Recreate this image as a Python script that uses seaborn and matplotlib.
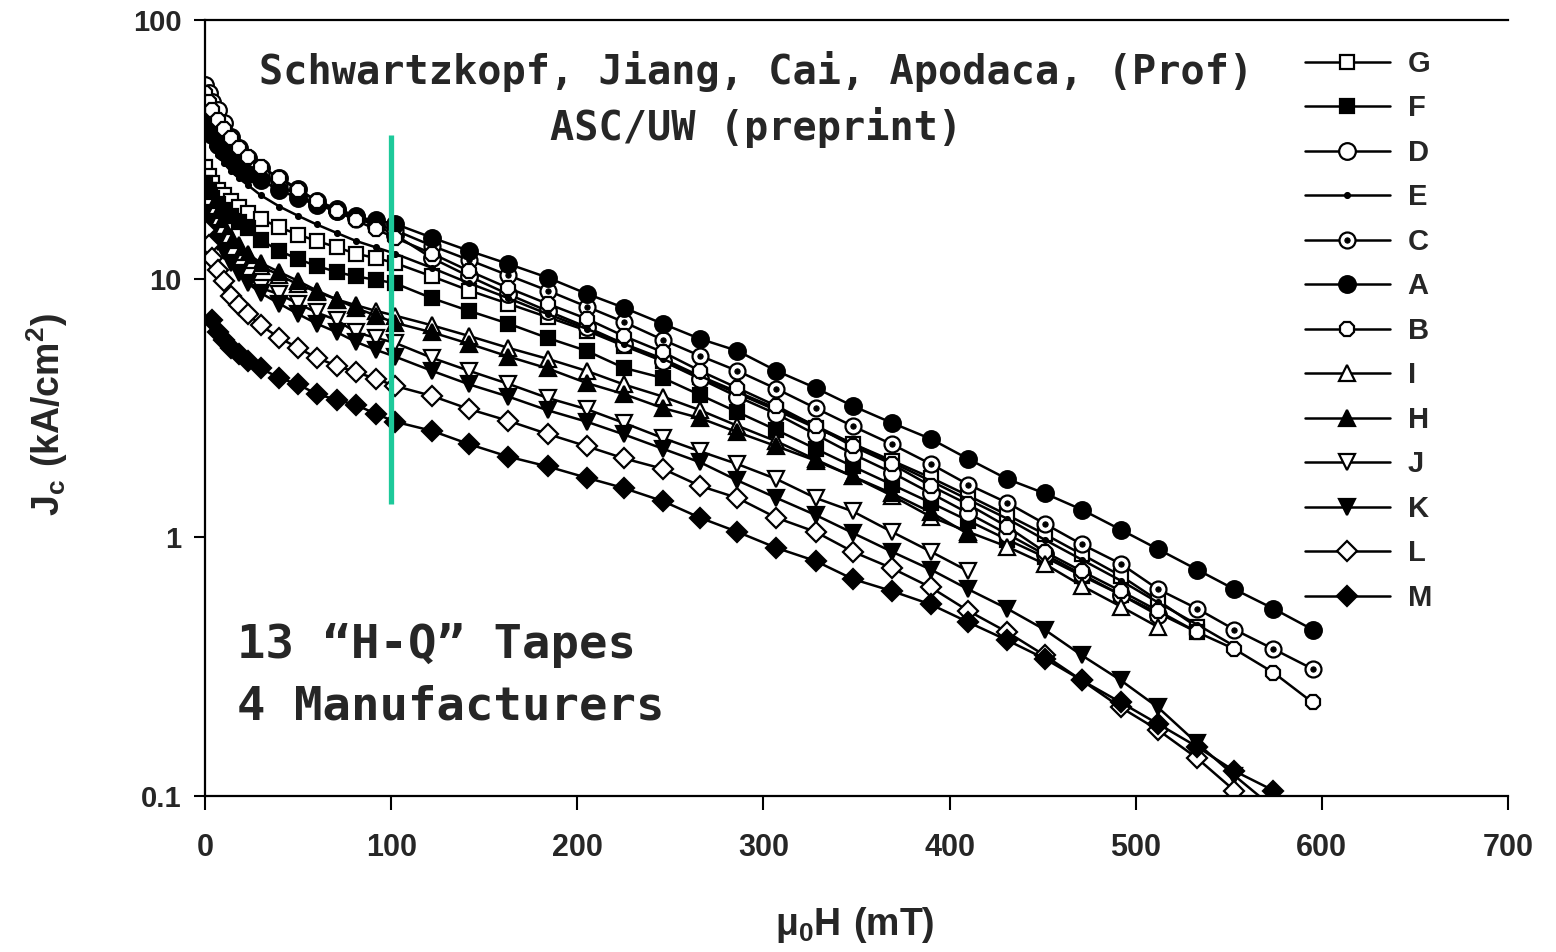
import numpy as np
import matplotlib
matplotlib.use("Agg")
import matplotlib.pyplot as plt
import seaborn as sns
from matplotlib.legend_handler import HandlerTuple

# ---------------- data ----------------
field = [0, 2, 4, 7, 10, 14, 18, 23, 30, 40, 50, 60, 71, 81, 92, 102,
         122, 142, 163, 184, 205, 225, 246, 266, 286, 307, 328, 348, 369,
         390, 410, 431, 451, 471, 492, 512, 533, 553, 574, 595]

G = [27, 25, 23.5, 22, 21, 20, 19, 18, 17, 15.8, 14.8, 14.0, 13.2, 12.5, 12.0, 11.5,
     10.2, 9.0, 8.0, 7.1, 6.3, 5.5, 4.8, 4.15, 3.6, 3.1,
     2.65, 2.3, 1.98, 1.7, 1.45, 1.22, 1.03, 0.86, 0.71, 0.57, 0.45]
F = [23.5, 22, 20.5, 19.5, 18.5, 17.5, 16.6, 15.7, 14.1, 12.8, 11.9, 11.2, 10.6, 10.2, 9.9, 9.6,
     8.4, 7.5, 6.7, 5.9, 5.26, 4.52, 4.13, 3.55, 3.05, 2.6,
     2.2, 1.88, 1.6, 1.36, 1.16, 0.98, 0.84, 0.71, 0.6, 0.51, 0.43]
D = [56, 52, 48, 44.8, 40, 35.2, 32, 29.4, 26.9, 24.6, 22.2, 20.0, 18.6, 17.5, 16.0, 14.8,
     12.0, 10.2, 8.7, 7.5, 6.5, 5.6, 4.8, 4.1, 3.5, 3.0,
     2.5, 2.1, 1.78, 1.48, 1.24, 1.03, 0.86, 0.72, 0.6, 0.5]
E = [38, 35, 32.5, 30, 28, 26, 24.5, 23, 21, 19, 17.5, 16.2, 15.0, 14.0, 13.2, 12.5,
     11.0, 9.6, 8.4, 7.3, 6.4, 5.6, 4.9, 4.2, 3.65, 3.15,
     2.7, 2.3, 1.95, 1.65, 1.4, 1.18, 0.98, 0.82, 0.68, 0.56, 0.46, 0.38]
C = [47, 44, 41, 38, 35, 32, 30, 28, 25.5, 23, 21, 19.5, 18.2, 17.0, 16.2, 15.4,
     13.4, 11.8, 10.3, 9.0, 7.8, 6.8, 5.8, 5.03, 4.40, 3.75,
     3.16, 2.69, 2.29, 1.92, 1.60, 1.36, 1.13, 0.94, 0.79, 0.63, 0.53, 0.44, 0.37, 0.31]
A = [41, 38, 36, 33, 31, 29, 27, 25.5, 24, 22, 20.5, 19.3, 18.2, 17.3, 16.8, 16.3,
     14.4, 12.8, 11.4, 10.1, 8.75, 7.72, 6.69, 5.85, 5.26, 4.40,
     3.78, 3.22, 2.77, 2.40, 2.01, 1.68, 1.48, 1.28, 1.07, 0.90, 0.75, 0.63, 0.53, 0.44]
B = [52, 48, 45, 41, 38, 35, 32, 29.5, 27, 24.5, 22, 20, 18.2, 16.8, 15.5, 14.4,
     12.5, 10.7, 9.2, 8.0, 7.0, 6.0, 5.2, 4.40, 3.78, 3.22,
     2.69, 2.25, 1.92, 1.58, 1.34, 1.10, 0.88, 0.74, 0.62, 0.52, 0.43, 0.37, 0.30, 0.23]
I = [21, 19.5, 18, 16.5, 15.5, 14.2, 13.2, 12.3, 11.2, 10.3, 9.5, 8.9, 8.3, 7.9, 7.5, 7.2,
     6.6, 6.0, 5.4, 4.9, 4.4, 3.9, 3.5, 3.1, 2.7, 2.35,
     2.0, 1.72, 1.45, 1.2, 1.05, 0.92, 0.79, 0.65, 0.54, 0.45]
H = [22, 20.5, 19, 17.5, 16, 14.5, 13.5, 12.5, 11.5, 10.6, 9.8, 9.0, 8.3, 7.7, 7.2, 6.75,
     6.2, 5.6, 5.0, 4.5, 3.95, 3.58, 3.16, 2.89, 2.55, 2.25,
     1.98, 1.72, 1.48, 1.25, 1.03]
J = [19, 17.5, 16, 14.8, 13.8, 12.2, 11.0, 10.2, 9.2, 8.7, 8.0, 7.4, 6.9, 6.2, 5.9, 5.65,
     4.94, 4.40, 3.92, 3.46, 3.13, 2.77, 2.42, 2.15, 1.92, 1.68,
     1.42, 1.26, 1.05, 0.88, 0.74]
K = [18, 16.5, 15, 13.8, 12.8, 11.5, 10.5, 9.6, 8.8, 8.0, 7.3, 6.7, 6.2, 5.7, 5.3, 5.0,
     4.4, 3.9, 3.5, 3.1, 2.8, 2.5, 2.2, 1.95, 1.66, 1.42,
     1.22, 1.04, 0.88, 0.75, 0.63, 0.53, 0.44, 0.35, 0.28, 0.22, 0.16, 0.12, 0.09]
L = [15.4, 13.5, 12.0, 10.8, 9.8, 8.6, 7.9, 7.3, 6.6, 5.9, 5.4, 4.94, 4.6, 4.35, 4.1, 3.85,
     3.52, 3.13, 2.82, 2.51, 2.25, 2.02, 1.84, 1.58, 1.42, 1.19,
     1.05, 0.88, 0.76, 0.64, 0.52, 0.43, 0.35, 0.28, 0.22, 0.18, 0.14, 0.105]
field_M = field[2:]
M = [6.9, 6.2, 5.8, 5.4, 5.1, 4.8, 4.5, 4.13, 3.9, 3.58, 3.4, 3.25, 3.0, 2.8,
     2.58, 2.29, 2.05, 1.88, 1.70, 1.55, 1.38, 1.19, 1.05, 0.91,
     0.81, 0.69, 0.62, 0.55, 0.47, 0.40, 0.34, 0.28, 0.23, 0.19, 0.155, 0.125, 0.105]

labels = ["G", "F", "D", "E", "C", "A", "B", "I", "H", "J", "K", "L", "M"]
xticks = [0, 100, 200, 300, 400, 500, 600, 700]
yticks = [0.1, 1, 10, 100]
ytick_labels = ["0.1", "1", "10", "100"]

marker_field = 100
marker_range = (1.35, 36)

title_lines = ["Schwartzkopf, Jiang, Cai, Apodaca, (Prof)", "ASC/UW (preprint)"]
note_lines = ["13 \u201cH-Q\u201d Tapes", "4 Manufacturers"]

# ---------------- style ----------------
sns.set_style("ticks")
plt.rcParams["font.family"] = ["Liberation Sans", "DejaVu Sans"]
plt.rcParams["mathtext.fontset"] = "custom"
plt.rcParams["mathtext.bf"] = "Liberation Sans:bold"
plt.rcParams["mathtext.rm"] = "Liberation Sans"

fig = plt.figure(figsize=(15.56, 9.52), dpi=100)
W, Hh = 1556, 952
ax = fig.add_axes([205 / W, 1 - 796 / Hh, (1508 - 205) / W, (796 - 20) / Hh])

series = {
    "G": (field, G, dict(marker="s", ms=10.5, mfc="white")),
    "F": (field, F, dict(marker="s", ms=10.5, mfc="black")),
    "D": (field, D, dict(marker="o", ms=12, mfc="white")),
    "E": (field, E, dict(marker="o", ms=3.5, mfc="black")),
    "C": (field, C, dict(marker="o", ms=11.5, mfc="white")),
    "A": (field, A, dict(marker="o", ms=12, mfc="black")),
    "B": (field, B, dict(marker="8", ms=11, mfc="white")),
    "I": (field, I, dict(marker="^", ms=11.5, mfc="white")),
    "H": (field, H, dict(marker="^", ms=11.5, mfc="black")),
    "J": (field, J, dict(marker="v", ms=11.5, mfc="white")),
    "K": (field, K, dict(marker="v", ms=11.5, mfc="black")),
    "L": (field, L, dict(marker="D", ms=10, mfc="white")),
    "M": (field_M, M, dict(marker="D", ms=10, mfc="black")),
}

handles = []
for lab in labels:
    xs, ys, kw = series[lab]
    xs = xs[:len(ys)]
    sns.lineplot(x=xs, y=ys, ax=ax, color="black", lw=1.8, estimator=None,
                 sort=False, marker=kw["marker"], markersize=kw["ms"],
                 markerfacecolor=kw["mfc"], markeredgecolor="black",
                 markeredgewidth=1.6, legend=False)
    ln = ax.lines[-1]
    if lab == "C":
        sns.lineplot(x=xs, y=ys, ax=ax, color="black", lw=0, estimator=None,
                     sort=False, marker="o", markersize=3.8,
                     markerfacecolor="black", markeredgecolor="black",
                     legend=False)
        handles.append((ln, ax.lines[-1]))
    else:
        handles.append(ln)

ax.vlines(marker_field, marker_range[0], marker_range[1],
          color="#1dc99a", lw=3.8, zorder=10)

ax.set_yscale("log")
ax.set_xlim(0, 700)
ax.set_ylim(0.1, 100)
ax.set_xticks(xticks)
ax.set_xticklabels([str(t) for t in xticks], fontsize=22, fontweight="bold")
ax.set_yticks(yticks)
ax.set_yticklabels(ytick_labels, fontsize=21, fontweight="bold")
ax.yaxis.set_minor_locator(matplotlib.ticker.NullLocator())
ax.tick_params(axis="both", direction="out", width=1.5, color="black")
ax.tick_params(axis="x", length=10, pad=17)
ax.tick_params(axis="y", length=8, pad=9)
for s in ["left", "bottom", "top"]:
    ax.spines[s].set_linewidth(1.6)
    ax.spines[s].set_color("black")
ax.spines["right"].set_visible(False)

ax.set_xlabel(r"$\mathbf{\mu_0H\ (mT)}$", fontsize=27)
ax.set_ylabel(r"$\mathbf{J_c\ (kA/cm^2)}$", fontsize=27)
ax.xaxis.set_label_coords(855 / W, 1 - 925 / Hh, transform=fig.transFigure)
ax.yaxis.set_label_coords(47 / W, 1 - 415 / Hh, transform=fig.transFigure)
ax.xaxis.label.set_va("center")
ax.yaxis.label.set_va("center")

leg = ax.legend(handles, labels, loc="upper left",
                bbox_to_anchor=(1305 / W, 1 - 50 / Hh),
                bbox_transform=fig.transFigure, frameon=False,
                prop={"weight": "bold", "size": 21},
                handlelength=2.9, handletextpad=0.62, labelspacing=0.565,
                borderpad=0, borderaxespad=0,
                handler_map={tuple: HandlerTuple(ndivide=1, pad=0)})

fig.text(756 / W, 1 - 71 / Hh, title_lines[0], ha="center", va="center",
         fontsize=29, family="DejaVu Sans Mono", fontweight="bold")
fig.text(756 / W, 1 - 127 / Hh, title_lines[1], ha="center", va="center",
         fontsize=29, family="DejaVu Sans Mono", fontweight="bold")
fig.text(237 / W, 1 - 645 / Hh, note_lines[0], ha="left", va="center",
         fontsize=34, family="DejaVu Sans Mono", fontweight="bold")
fig.text(237 / W, 1 - 707 / Hh, note_lines[1], ha="left", va="center",
         fontsize=34, family="DejaVu Sans Mono", fontweight="bold")

fig.savefig("out.png", dpi=100, facecolor="white")
